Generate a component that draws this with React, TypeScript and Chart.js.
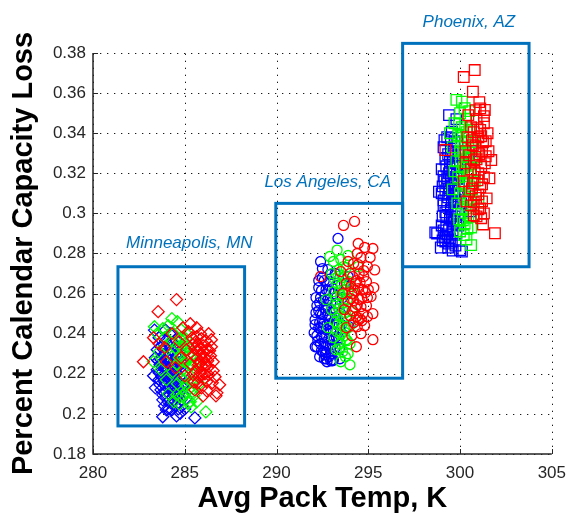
import React, { useEffect, useRef } from "react";
import { Chart, registerables } from "chart.js";

Chart.register(...registerables);

// ---- axis ticks ----
const xTicks = [280, 285, 290, 295, 300, 305];
const yTicks = [0.18, 0.2, 0.22, 0.24, 0.26, 0.28, 0.3, 0.32, 0.34, 0.36, 0.38];
const xTitle = "Avg Pack Temp, K";
const yTitle = "Percent Calendar Capacity Loss";

// ---- Minneapolis, MN (diamonds) ----
const mnRed: [number, number][] = [
  [284.55, 0.257], [283.55, 0.251], [282.75, 0.226], [285.85, 0.24], [286.3, 0.24], [286.45, 0.2335],
  [286.55, 0.226], [286.65, 0.2185], [286.7, 0.209], [286.9, 0.2145], [286.75, 0.2105], [286.45, 0.237],
  [285.3, 0.245], [284.9, 0.243], [284.3, 0.24], [283.3, 0.238], [283.9, 0.233], [285.6, 0.236],
  [285.7, 0.232], [285.9, 0.23], [286.1, 0.228], [285.5, 0.229], [285.8, 0.226], [286.0, 0.234],
  [285.4, 0.238], [286.2, 0.232], [285.95, 0.224], [285.6, 0.221], [286.1, 0.22], [285.3, 0.225],
  [285.75, 0.2185], [286.3, 0.2235], [285.5, 0.216], [285.9, 0.213], [286.2, 0.216], [285.1, 0.232],
  [284.8, 0.228], [284.5, 0.223], [285.0, 0.219], [284.7, 0.236], [285.2, 0.241], [285.9, 0.2375],
  [286.4, 0.229], [285.65, 0.243], [284.0, 0.226], [283.6, 0.235], [285.55, 0.212], [286.0, 0.209],
  [285.7, 0.2345], [285.85, 0.2325], [286.05, 0.2305], [286.25, 0.2265], [285.65, 0.2275], [285.95, 0.2275],
  [286.15, 0.2245], [285.75, 0.2245], [285.55, 0.2325], [286.35, 0.2315], [285.85, 0.2205], [286.05, 0.2175],
  [285.45, 0.2195], [286.3, 0.2195], [285.65, 0.2385], [286.15, 0.2365], [285.95, 0.2195], [285.45, 0.2345],
  [286.55, 0.2215], [286.5, 0.2155], [285.7, 0.2155], [286.2, 0.2115],
];
const mnGreen: [number, number][] = [
  [286.15, 0.201], [285.65, 0.206], [284.3, 0.2475], [283.35, 0.2435], [285.4, 0.211], [284.6, 0.246],
  [284.1, 0.244], [283.5, 0.24], [283.3, 0.226], [283.6, 0.231], [284.4, 0.24], [284.8, 0.238],
  [285.0, 0.235], [285.2, 0.23], [285.3, 0.224], [285.1, 0.218], [285.4, 0.216], [285.5, 0.22],
  [285.2, 0.212], [284.9, 0.209], [284.7, 0.205], [284.4, 0.206], [284.1, 0.21], [284.6, 0.215],
  [284.9, 0.222], [284.7, 0.228], [284.5, 0.233], [285.0, 0.226], [284.2, 0.236], [283.9, 0.238],
  [285.5, 0.209], [285.8, 0.215], [285.3, 0.206], [284.8, 0.242], [285.1, 0.24], [283.7, 0.222],
  [284.0, 0.217], [284.35, 0.221], [285.6, 0.225], [285.35, 0.2035],
  [284.95, 0.2325], [285.15, 0.2265], [285.25, 0.2195], [285.05, 0.2145], [284.85, 0.2175], [285.3, 0.2285],
  [284.75, 0.2335], [285.05, 0.2375], [284.6, 0.2245], [285.45, 0.2125], [285.0, 0.2105], [284.75, 0.2085],
  [285.2, 0.2055], [284.55, 0.2095], [285.15, 0.2335], [284.3, 0.2285], [284.0, 0.2335], [283.8, 0.2425],
  [285.4, 0.2245], [284.9, 0.2265],
];
const mnBlue: [number, number][] = [
  [283.35, 0.2418], [283.95, 0.2418], [285.55, 0.198], [283.8, 0.1986], [284.75, 0.2003], [283.6, 0.238],
  [284.2, 0.24], [284.5, 0.237], [283.5, 0.232], [283.9, 0.233], [284.3, 0.232], [284.7, 0.231],
  [283.4, 0.228], [283.7, 0.227], [284.0, 0.228], [284.4, 0.226], [284.8, 0.226], [283.5, 0.222],
  [283.8, 0.221], [284.1, 0.222], [284.5, 0.221], [284.9, 0.22], [283.6, 0.217], [283.9, 0.216],
  [284.2, 0.217], [284.6, 0.216], [283.7, 0.212], [284.0, 0.211], [284.3, 0.212], [284.7, 0.211],
  [283.8, 0.207], [284.1, 0.206], [284.4, 0.207], [284.8, 0.207], [284.0, 0.202], [284.3, 0.202],
  [284.55, 0.199], [283.9, 0.204], [283.3, 0.219], [283.4, 0.213], [285.0, 0.215], [285.1, 0.208],
  [283.65, 0.2245], [284.25, 0.2245], [284.65, 0.2235], [283.95, 0.219], [284.35, 0.2185], [284.75, 0.218],
  [284.15, 0.2135], [284.5, 0.2135], [283.85, 0.2295], [284.55, 0.229], [284.1, 0.2345], [285.0, 0.2025],
  [284.85, 0.204],
  [283.75, 0.2255], [283.85, 0.2235], [284.05, 0.2255], [284.2, 0.2205], [284.4, 0.2225], [284.6, 0.2195],
  [283.9, 0.2145], [284.05, 0.2165], [284.25, 0.2145], [284.45, 0.2165], [284.65, 0.2135], [283.8, 0.2095],
  [284.0, 0.2085], [284.2, 0.2095], [284.4, 0.2105], [284.6, 0.2085], [283.95, 0.2265], [284.3, 0.2285],
  [284.5, 0.2255], [284.15, 0.2305], [283.75, 0.2185], [284.85, 0.2235], [284.7, 0.2275], [283.55, 0.2265],
  [283.65, 0.2145], [283.9, 0.2105], [284.25, 0.2055], [284.5, 0.2045], [284.65, 0.2025], [284.15, 0.2025],
  [283.95, 0.2365], [284.35, 0.2355], [283.7, 0.2335], [284.6, 0.2335], [284.85, 0.2135], [284.95, 0.2095],
  [283.6, 0.2205], [284.1, 0.2185], [284.3, 0.2165], [284.55, 0.2115],
];

// ---- Los Angeles, CA (circles) ----
const laRed: [number, number][] = [
  [293.65, 0.294], [294.25, 0.296], [294.45, 0.285], [295.25, 0.2825], [294.95, 0.2735], [295.35, 0.2718],
  [292.4, 0.2685], [295.15, 0.2585], [295.25, 0.25], [294.95, 0.2485], [295.25, 0.237], [294.45, 0.2468],
  [294.35, 0.2335], [295.1, 0.278], [294.8, 0.283], [294.6, 0.278], [294.2, 0.275], [294.0, 0.27],
  [294.5, 0.27], [294.9, 0.266], [295.3, 0.263], [294.3, 0.265], [293.8, 0.265], [294.7, 0.262],
  [294.1, 0.26], [294.5, 0.257], [294.9, 0.254], [293.9, 0.256], [294.3, 0.253], [294.7, 0.25],
  [294.0, 0.249], [294.4, 0.2435], [294.8, 0.244], [293.7, 0.252], [293.6, 0.26], [294.6, 0.24],
  [294.1, 0.239], [293.8, 0.243], [294.95, 0.258], [295.0, 0.262], [293.5, 0.271], [293.9, 0.276],
  [294.4, 0.28],
  [294.15, 0.2685], [294.35, 0.2665], [294.55, 0.2655], [294.75, 0.2685], [294.05, 0.2635], [294.25, 0.2615],
  [294.45, 0.2625], [294.65, 0.2575], [294.2, 0.2565], [294.4, 0.2545], [294.6, 0.2535], [294.15, 0.2515],
  [294.35, 0.2485], [294.55, 0.2475], [294.2, 0.2455], [294.75, 0.2715], [294.45, 0.2745], [294.85, 0.2605],
  [294.05, 0.2575], [294.65, 0.2465],
];
const laGreen: [number, number][] = [
  [293.9, 0.23], [293.3, 0.2817], [292.9, 0.2785], [294.45, 0.2735], [294.35, 0.2485], [293.8, 0.237],
  [293.45, 0.235], [293.1, 0.276], [293.5, 0.277], [293.8, 0.273], [293.4, 0.272], [293.0, 0.27],
  [293.6, 0.268], [293.95, 0.266], [293.3, 0.265], [293.7, 0.262], [293.1, 0.261], [293.5, 0.259],
  [293.85, 0.257], [293.3, 0.255], [293.65, 0.253], [293.0, 0.252], [293.45, 0.249], [293.8, 0.248],
  [293.2, 0.246], [293.55, 0.244], [293.9, 0.243], [293.3, 0.241], [293.7, 0.239], [293.1, 0.238],
  [294.1, 0.251], [294.2, 0.26], [293.25, 0.232], [293.6, 0.231], [294.0, 0.235], [292.8, 0.243],
  [292.7, 0.257], [293.9, 0.279], [294.0, 0.2245], [293.5, 0.226],
  [293.35, 0.2685], [293.55, 0.2645], [293.75, 0.2665], [293.45, 0.2615], [293.25, 0.2585], [293.6, 0.2555],
  [293.4, 0.2525], [293.75, 0.2505], [293.55, 0.2475], [293.35, 0.2445], [293.7, 0.2425], [293.5, 0.2395],
  [293.85, 0.2365], [293.2, 0.2505], [293.9, 0.2605], [293.15, 0.2675], [293.65, 0.2735], [293.4, 0.2325],
  [293.75, 0.2285], [294.05, 0.2445],
];
const laBlue: [number, number][] = [
  [293.35, 0.2875], [292.4, 0.276], [293.45, 0.2275], [292.2, 0.2335], [292.65, 0.2295], [293.95, 0.2435],
  [293.9, 0.2685], [292.8, 0.272], [293.2, 0.27], [292.5, 0.268], [292.9, 0.266], [293.3, 0.264],
  [292.3, 0.263], [292.7, 0.262], [293.1, 0.26], [292.4, 0.258], [292.8, 0.257], [293.2, 0.255],
  [292.2, 0.254], [292.6, 0.253], [293.0, 0.252], [292.4, 0.25], [292.8, 0.249], [293.2, 0.248],
  [292.1, 0.247], [292.5, 0.246], [292.9, 0.245], [292.3, 0.243], [292.7, 0.242], [293.1, 0.241],
  [292.2, 0.239], [292.6, 0.238], [293.0, 0.237], [292.4, 0.235], [292.8, 0.234], [293.2, 0.233],
  [292.55, 0.231], [292.95, 0.23], [292.35, 0.2285], [293.05, 0.2265], [292.75, 0.226], [293.5, 0.25],
  [293.6, 0.258], [292.05, 0.2405], [292.15, 0.258], [293.4, 0.238], [293.55, 0.2445], [292.5, 0.2725],
  [293.7, 0.265], [293.45, 0.233], [292.11, 0.2335], [293.1, 0.2269],
  [292.45, 0.2615], [292.65, 0.2595], [292.85, 0.2615], [293.05, 0.2625], [292.35, 0.2555], [292.55, 0.2565],
  [292.75, 0.2545], [292.95, 0.2555], [293.15, 0.2505], [292.3, 0.2515], [292.5, 0.2495], [292.7, 0.2515],
  [292.9, 0.2485], [293.1, 0.2455], [292.35, 0.2455], [292.55, 0.2435], [292.75, 0.2445], [292.95, 0.2415],
  [292.25, 0.2365], [292.45, 0.2385], [292.65, 0.2355], [292.85, 0.2375], [293.05, 0.2345], [292.45, 0.2315],
  [292.7, 0.2305], [292.9, 0.2325], [292.6, 0.2275], [292.85, 0.2285], [292.95, 0.2265], [293.25, 0.2385],
  [293.3, 0.2445], [293.3, 0.2585], [292.6, 0.2665], [292.95, 0.2695], [292.3, 0.2665], [292.15, 0.2505],
  [292.1, 0.2445], [293.4, 0.2525], [292.7, 0.2275], [292.4, 0.2425],
];

// ---- Phoenix, AZ (squares) ----
const phRed: [number, number][] = [
  [300.8, 0.3715], [300.2, 0.368], [300.7, 0.3607], [301.1, 0.3524], [301.35, 0.3516], [301.7, 0.3266],
  [301.6, 0.3175], [301.45, 0.3075], [301.15, 0.2976], [301.9, 0.2901], [301.1, 0.3416], [299.2, 0.3316],
  [300.9, 0.347], [301.3, 0.345], [300.6, 0.343], [301.0, 0.338], [301.4, 0.336], [300.7, 0.334],
  [301.2, 0.331], [300.5, 0.329], [300.9, 0.327], [301.35, 0.325], [300.6, 0.322], [301.0, 0.32],
  [301.3, 0.318], [300.7, 0.315], [301.1, 0.313], [300.5, 0.311], [300.85, 0.309], [301.2, 0.306],
  [300.6, 0.304], [301.0, 0.302], [300.75, 0.299], [301.3, 0.3], [300.4, 0.338], [300.3, 0.325],
  [301.5, 0.34], [300.2, 0.316], [301.55, 0.331], [300.35, 0.306], [301.05, 0.3555], [300.45, 0.349],
  [300.3, 0.331], [301.25, 0.2945],
  [300.75, 0.3405], [300.95, 0.3425], [301.15, 0.3385], [300.65, 0.3365], [300.85, 0.3335], [301.05, 0.3295],
  [300.75, 0.3265], [301.15, 0.3235], [300.8, 0.3205], [300.95, 0.3165], [301.2, 0.3145], [300.65, 0.3125],
  [301.0, 0.3095], [300.75, 0.3055], [301.1, 0.3025], [300.9, 0.2985], [301.25, 0.3355], [301.4, 0.3285],
  [301.3, 0.3485], [300.85, 0.3515],
];
const phGreen: [number, number][] = [
  [299.8, 0.3566], [300.1, 0.3557], [300.6, 0.2842], [300.2, 0.2892], [299.45, 0.34], [301.0, 0.3058],
  [300.0, 0.35], [300.3, 0.347], [299.7, 0.345], [300.1, 0.343], [300.5, 0.341], [299.9, 0.339],
  [300.3, 0.336], [300.6, 0.333], [300.0, 0.331], [300.4, 0.328], [299.8, 0.326], [300.2, 0.323],
  [300.55, 0.32], [299.9, 0.318], [300.3, 0.315], [300.65, 0.312], [300.0, 0.31], [300.4, 0.307],
  [300.7, 0.304], [300.1, 0.302], [300.45, 0.299], [300.25, 0.295], [300.6, 0.293], [299.95, 0.297],
  [300.8, 0.316], [300.85, 0.328], [299.6, 0.333], [299.7, 0.321], [300.0, 0.291], [300.5, 0.351],
  [299.85, 0.305], [300.75, 0.3355], [300.35, 0.287], [299.6, 0.312],
  [300.15, 0.3385], [300.35, 0.3405], [300.05, 0.3355], [300.45, 0.3325], [300.2, 0.3295], [300.5, 0.3245],
  [300.1, 0.3205], [300.4, 0.3185], [300.15, 0.3145], [300.5, 0.3135], [300.2, 0.3085], [300.55, 0.3065],
  [300.3, 0.3025], [300.6, 0.2985], [300.15, 0.2965], [300.4, 0.2925], [300.05, 0.3265], [299.95, 0.3445],
  [300.25, 0.3525], [300.65, 0.3275],
];
const phBlue: [number, number][] = [
  [299.4, 0.349], [299.55, 0.3408], [298.85, 0.3108], [298.75, 0.29], [299.2, 0.286], [300.1, 0.281],
  [300.55, 0.301], [300.6, 0.331], [299.8, 0.347], [299.3, 0.338], [299.7, 0.336], [299.1, 0.333],
  [299.5, 0.331], [299.9, 0.329], [299.2, 0.327], [299.6, 0.325], [300.0, 0.323], [299.0, 0.322],
  [299.4, 0.32], [299.8, 0.318], [299.15, 0.316], [299.55, 0.314], [299.95, 0.312], [299.0, 0.31],
  [299.35, 0.308], [299.75, 0.306], [299.1, 0.304], [299.5, 0.302], [299.9, 0.3], [299.25, 0.298],
  [299.65, 0.296], [299.0, 0.294], [299.4, 0.292], [299.8, 0.29], [299.15, 0.288], [299.55, 0.286],
  [298.95, 0.283], [299.35, 0.283], [299.75, 0.284], [299.6, 0.2815], [300.2, 0.324], [300.3, 0.3305],
  [299.45, 0.326], [299.7, 0.31], [299.3, 0.315], [299.9, 0.294], [300.05, 0.305], [299.05, 0.2985],
  [300.2, 0.315], [300.4, 0.327], [298.65, 0.2905], [299.37, 0.285], [300.0, 0.2817],
  [299.25, 0.3235], [299.45, 0.3225], [299.65, 0.3205], [299.85, 0.3245], [299.1, 0.3185], [299.3, 0.3175],
  [299.5, 0.3165], [299.7, 0.3145], [299.2, 0.3115], [299.4, 0.3125], [299.6, 0.3095], [299.85, 0.3085],
  [299.1, 0.3065], [299.3, 0.3045], [299.55, 0.3055], [299.75, 0.3015], [299.2, 0.3005], [299.45, 0.2975],
  [299.7, 0.2985], [299.1, 0.2915], [299.3, 0.2895], [299.6, 0.2915], [299.45, 0.2875], [299.25, 0.2935],
  [299.8, 0.2945], [299.05, 0.3135], [299.35, 0.3295], [299.6, 0.3285], [299.15, 0.3365], [299.5, 0.3375],
  [299.85, 0.3355], [299.55, 0.2985], [299.95, 0.3175], [299.65, 0.3065], [299.05, 0.2865],
];

// ---- region boxes and labels (data coordinates) ----
const regionNames = ["Minneapolis, MN", "Los Angeles, CA", "Phoenix, AZ"];
const regionXMin = [281.36, 289.96, 296.87];
const regionXMax = [288.26, 296.87, 303.76];
const regionYMin = [0.194, 0.2178, 0.2734];
const regionYMax = [0.2734, 0.305, 0.3848];
const regionLabelX = [281.8, 289.34, 297.96];
const regionLabelY = [0.2827, 0.3133, 0.3931];

const RED = "#ff0000";
const GREEN = "#00ff00";
const BLUE = "#0000ff";
const BOX = "#0072bd";
const AXIS = "#262626";
const FONT = "'Liberation Sans', Arial, Helvetica, sans-serif";

const toPts = (a: [number, number][]) => a.map(([x, y]) => ({ x, y }));

function ds(data: [number, number][], color: string, style: string, radius: number) {
  return {
    data: toPts(data),
    pointStyle: style,
    pointRadius: radius,
    pointBorderWidth: 1.3,
    pointBorderColor: color,
    pointBackgroundColor: "rgba(0,0,0,0)",
    borderColor: color,
    backgroundColor: "rgba(0,0,0,0)",
    showLine: false,
  };
}

const decorPlugin = {
  id: "decor",
  beforeDatasetsDraw(chart: any) {
    const { ctx, chartArea, scales } = chart;
    const xs = scales.x;
    const ys = scales.y;
    const { left, right, top, bottom } = chartArea;
    ctx.save();
    // dotted grid
    ctx.strokeStyle = "#1a1a1a";
    ctx.lineWidth = 1;
    ctx.setLineDash([1.3, 5.7]);
    xTicks.forEach((v) => {
      const px = Math.round(xs.getPixelForValue(v)) + 0.5;
      ctx.beginPath();
      ctx.moveTo(px, bottom);
      ctx.lineTo(px, top);
      ctx.stroke();
    });
    yTicks.forEach((v) => {
      const py = Math.round(ys.getPixelForValue(v)) + 0.5;
      ctx.beginPath();
      ctx.moveTo(left, py);
      ctx.lineTo(right, py);
      ctx.stroke();
    });
    ctx.setLineDash([]);
    // axis lines
    ctx.strokeStyle = AXIS;
    ctx.lineWidth = 1.5;
    ctx.beginPath();
    ctx.moveTo(left, top);
    ctx.lineTo(left, bottom);
    ctx.lineTo(right, bottom);
    ctx.stroke();
    // inward ticks
    ctx.lineWidth = 1;
    xTicks.forEach((v) => {
      const px = Math.round(xs.getPixelForValue(v)) + 0.5;
      ctx.beginPath();
      ctx.moveTo(px, bottom);
      ctx.lineTo(px, bottom - 5);
      ctx.stroke();
    });
    yTicks.forEach((v) => {
      const py = Math.round(ys.getPixelForValue(v)) + 0.5;
      ctx.beginPath();
      ctx.moveTo(left, py);
      ctx.lineTo(left + 5, py);
      ctx.stroke();
    });
    ctx.restore();
  },
  afterDatasetsDraw(chart: any) {
    const { ctx, scales } = chart;
    const xs = scales.x;
    const ys = scales.y;
    ctx.save();
    ctx.strokeStyle = BOX;
    ctx.lineWidth = 3;
    regionNames.forEach((name, i) => {
      const x1 = xs.getPixelForValue(regionXMin[i]);
      const x2 = xs.getPixelForValue(regionXMax[i]);
      const y1 = ys.getPixelForValue(regionYMax[i]);
      const y2 = ys.getPixelForValue(regionYMin[i]);
      ctx.strokeRect(x1, y1, x2 - x1, y2 - y1);
    });
    ctx.fillStyle = BOX;
    ctx.font = `italic 17px ${FONT}`;
    ctx.textAlign = "left";
    ctx.textBaseline = "alphabetic";
    regionNames.forEach((name, i) => {
      ctx.fillText(name, xs.getPixelForValue(regionLabelX[i]), ys.getPixelForValue(regionLabelY[i]));
    });
    ctx.restore();
  },
};

export default function App() {
  const ref = useRef<HTMLCanvasElement | null>(null);
  useEffect(() => {
    if (!ref.current) return;
    const chart = new Chart(ref.current, {
      type: "scatter",
      data: {
        datasets: [
          ds(mnRed, RED, "rectRot", 6),
          ds(mnGreen, GREEN, "rectRot", 6),
          ds(mnBlue, BLUE, "rectRot", 6),
          ds(laRed, RED, "circle", 5),
          ds(laGreen, GREEN, "circle", 5),
          ds(laBlue, BLUE, "circle", 5),
          ds(phRed, RED, "rect", 7.5),
          ds(phGreen, GREEN, "rect", 7.5),
          ds(phBlue, BLUE, "rect", 7.5),
        ] as any,
      },
      options: {
        animation: false,
        responsive: false,
        events: [],
        layout: { padding: { left: 0, right: 17, top: 53, bottom: 0 } },
        plugins: { legend: { display: false }, tooltip: { enabled: false } },
        scales: {
          x: {
            type: "linear",
            min: 280,
            max: 305,
            afterBuildTicks: (s: any) => {
              s.ticks = xTicks.map((v) => ({ value: v }));
            },
            afterFit: (s: any) => {
              s.height = 64;
            },
            grid: { display: false, drawTicks: false },
            border: { display: false },
            ticks: {
              autoSkip: false,
              maxRotation: 0,
              padding: 9,
              color: AXIS,
              font: { family: FONT, size: 17 },
              callback: (v: any) => String(v),
            },
            title: {
              display: true,
              text: xTitle,
              color: "#000",
              font: { family: FONT, size: 29, weight: "bold" },
              padding: { top: 0, bottom: 2 },
            },
          },
          y: {
            type: "linear",
            min: 0.18,
            max: 0.38,
            afterBuildTicks: (s: any) => {
              s.ticks = yTicks.map((v) => ({ value: v }));
            },
            afterFit: (s: any) => {
              s.width = 93;
            },
            grid: { display: false, drawTicks: false },
            border: { display: false },
            ticks: {
              autoSkip: false,
              padding: 7,
              color: AXIS,
              font: { family: FONT, size: 17 },
              callback: (v: any) => String(Number(Number(v).toFixed(2))),
            },
            title: {
              display: true,
              text: yTitle,
              color: "#000",
              font: { family: FONT, size: 29, weight: "bold" },
              padding: { top: 7, bottom: 0 },
            },
          },
        },
      } as any,
      plugins: [decorPlugin],
    });
    return () => chart.destroy();
  }, []);
  return (
    <div style={{ position: "fixed", left: 0, top: 0, width: 575, height: 518, background: "#fff" }}>
      <canvas ref={ref} width={575} height={518} style={{ display: "block", width: 575, height: 518 }} />
    </div>
  );
}
